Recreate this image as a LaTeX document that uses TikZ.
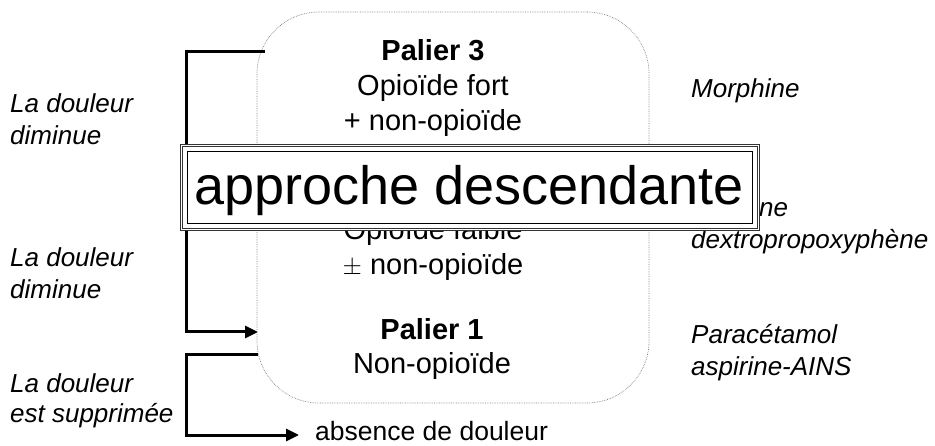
\documentclass[tikz,border=0pt]{standalone}
\usepackage{fontspec}
\setmainfont{Liberation Sans}
\usetikzlibrary{arrows.meta}
\begin{document}
\begin{tikzpicture}[x=1pt,y=-1pt,
  mid/.style={anchor=base,font=\fontsize{29}{35}\selectfont,inner sep=0pt},
  midb/.style={anchor=base,font=\fontsize{29}{35}\selectfont\bfseries,inner sep=0pt},
  side/.style={anchor=base west,font=\fontsize{26}{32}\selectfont\itshape,inner sep=0pt},
  bracket/.style={line width=3pt,line join=miter},
  arr/.style={bracket,-{Triangle[length=13pt,width=12pt]}}]
\useasboundingbox (0,0) rectangle (935,446);
% rounded frame
\node[draw=gray,densely dotted,line width=0.7pt,rounded corners=62pt,
      minimum width=392pt,minimum height=391pt,inner sep=0pt] (pal) at (453,207.5) {};
% central texts
\node[midb] (p3) at (433,61) {Palier 3};
\node[mid] (p3a) at (433,96) {Opioïde fort};
\node[mid] (p3b) at (433,131) {+ non-opioïde};
\node[mid] (p2a) at (433,240) {Opioïde faible};
\node[mid] (p2b) at (433,275) {$\pm$ non-opioïde};
\node[midb] (p1) at (432,340) {Palier 1};
\node[mid] (p1a) at (432,374) {Non-opioïde};
\node[anchor=base west,font=\fontsize{26.5}{32}\selectfont,inner sep=0pt] (abs) at (315,440) {absence de douleur};
% left labels
\node[side] (l1a) at (10,113) {La douleur};
\node[side] (l1b) at (10,145) {diminue};
\node[side] (l2a) at (10,267) {La douleur};
\node[side] (l2b) at (10,299) {diminue};
\node[side] (l3a) at (10,392) {La douleur};
\node[side] (l3b) at (10,422) {est supprimée};
% right labels
\node[side] (r3) at (691,98) {Morphine};
\node[side] (r2a) at (691,217) {Codéine};
\node[side] (r2b) at (691,249) {dextropropoxyphène};
\node[side] (r1a) at (691,344) {Paracétamol};
\node[side] (r1b) at (691,376) {aspirine-AINS};
% brackets
\coordinate (b1s) at (265,52);
\coordinate (b1e) at (258,332);
\coordinate (b2s) at (258,355);
\coordinate (b2e) at (299,435);
\draw[arr] (b1s) -| (186,332) -- (b1e);
\draw[arr] (b2s) -| (186,435) -- (b2e);
% title box
\node[draw=black!80,line width=0.8pt,double=white,double distance=1.4pt,fill=white,
      minimum width=577pt,minimum height=84pt,inner sep=0pt] (ad) at (470,187.5) {};
\draw[line width=1.6pt] ([shift={(6.5,6.5)}]ad.north west) rectangle ([shift={(-6.5,-6.5)}]ad.south east);
\node[font=\fontsize{54}{60}\selectfont,inner sep=0pt,anchor=base] (adt) at (469,205) {approche descendante};
\end{tikzpicture}
\end{document}
